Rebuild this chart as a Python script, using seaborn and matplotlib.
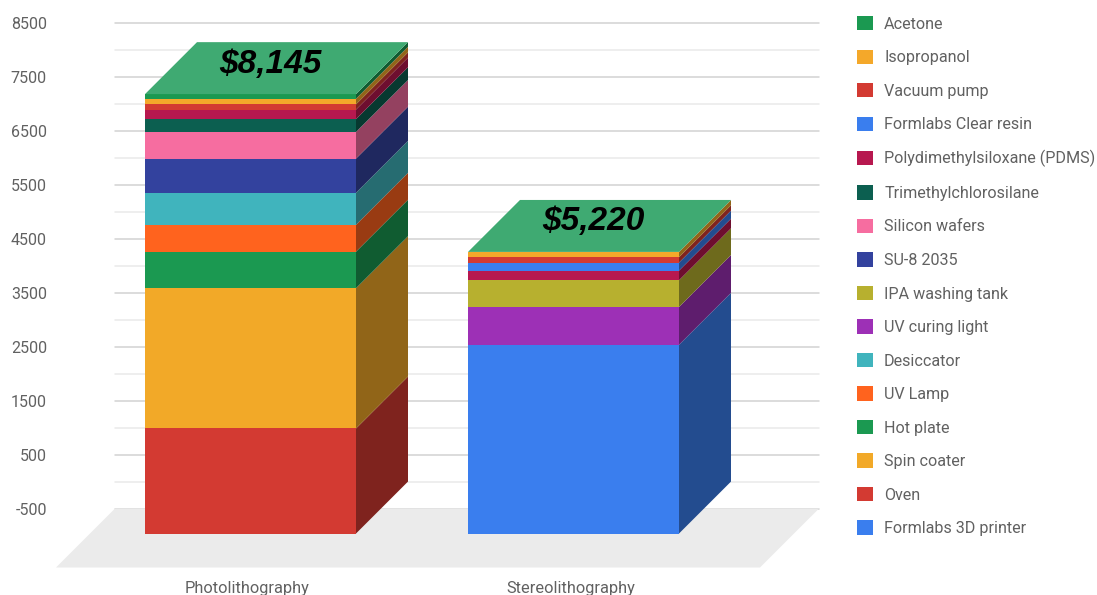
import matplotlib
matplotlib.use("Agg")
import matplotlib.pyplot as plt
from matplotlib.colors import to_rgb
from matplotlib.patches import Patch, Polygon
from matplotlib.transforms import ScaledTranslation
import numpy as np
import seaborn as sns

# Cost of each item per fabrication method, bottom of the stack first
methods = ["Photolithography", "Stereolithography"]
series_names = [
    "Formlabs 3D printer", "Oven", "Spin coater", "Hot plate", "UV Lamp",
    "Desiccator", "UV curing light", "IPA washing tank", "SU-8 2035",
    "Silicon wafers", "Trimethylchlorosilane", "Polydimethylsiloxane (PDMS)",
    "Formlabs Clear resin", "Vacuum pump", "Isopropanol", "Acetone",
]
photolithography = [0, 1947, 2600, 677, 499, 593, 0, 0, 633, 494, 237, 178, 0, 97, 104, 86]
stereolithography = [3499, 0, 0, 0, 0, 0, 700, 495, 0, 0, 0, 179, 149, 99, 99, 0]
series_colors = [
    "#3a7eee", "#d33a32", "#f2a928", "#1b9951", "#ff631e", "#40b4bd",
    "#9d30b6", "#b7b02f", "#33429e", "#f66da0", "#0c5f50", "#b7184f",
    "#3a7eee", "#d33a32", "#f4a82a", "#1b9951",
]
total_labels = ["$8,145", "$5,220"]
y_major = [-500, 500, 1500, 2500, 3500, 4500, 5500, 6500, 7500, 8500]
y_minor = [0, 1000, 2000, 3000, 4000, 5000, 6000, 7000, 8000]

TEXT = "#616161"
PX_PER_UNIT = 0.054       # vertical pixels per dollar
PX_PER_SLOT = 323.0       # horizontal pixels between the two columns
DEPTH_PX = 52.0           # oblique offset of the 3D extrusion
BAR_WIDTH = 211 / PX_PER_SLOT
FIG_W, FIG_H = 1097, 595
AX_L, AX_R, AX_T, AX_B = 115, 819, 23, 568
X0_PX = 250.5

depth_x = DEPTH_PX / PX_PER_SLOT
depth_y = DEPTH_PX / PX_PER_UNIT

sns.set_theme(style="white")
plt.rcParams["font.family"] = ["Roboto", "DejaVu Sans"]
plt.rcParams["axes.unicode_minus"] = False

fig = plt.figure(figsize=(FIG_W / 100, FIG_H / 100), dpi=100)
ax = fig.add_axes([AX_L / FIG_W, 1 - AX_B / FIG_H,
                   (AX_R - AX_L) / FIG_W, (AX_B - AX_T) / FIG_H])

# Stacked front faces, pushed forward by the extrusion depth
bottoms = np.array([-depth_y, -depth_y])
faces = []
for name, p, s, color in zip(series_names, photolithography, stereolithography, series_colors):
    heights = np.array([p, s], dtype=float)
    sns.barplot(x=methods, y=heights, bottom=bottoms, color=color, saturation=1,
                width=BAR_WIDTH, linewidth=0, ax=ax, zorder=3)
    faces.append((bottoms.copy(), heights, color))
    bottoms = bottoms + heights

# Floor and oblique side and top faces
x_left = (AX_L - X0_PX) / PX_PER_SLOT
x_right = (AX_R - X0_PX) / PX_PER_SLOT
floor_dx = 59 / PX_PER_SLOT
floor_dy = 59 / PX_PER_UNIT
ax.add_patch(Polygon(
    [(x_left, -500), (x_right, -500), (x_right - floor_dx, -500 - floor_dy),
     (x_left - floor_dx, -500 - floor_dy)],
    closed=True, facecolor="#ebebeb", edgecolor="none", clip_on=False, zorder=2))

for i in range(len(methods)):
    edge = i + BAR_WIDTH / 2
    for low, heights, color in faces:
        if heights[i] <= 0:
            continue
        lo, hi = low[i], low[i] + heights[i]
        shade = tuple(c * 0.6 for c in to_rgb(color))
        ax.add_patch(Polygon(
            [(edge, lo), (edge + depth_x, lo + depth_y),
             (edge + depth_x, hi + depth_y), (edge, hi)],
            closed=True, facecolor=shade, edgecolor="none", zorder=3))
    top = bottoms[i]
    ax.add_patch(Polygon(
        [(i - BAR_WIDTH / 2, top), (edge, top), (edge + depth_x, top + depth_y),
         (i - BAR_WIDTH / 2 + depth_x, top + depth_y)],
        closed=True, facecolor="#3faa72", edgecolor="none", zorder=3))
    ax.annotate(total_labels[i], xy=(i + depth_x / 2, top + depth_y / 2),
                xytext=(-6, 4), textcoords="offset pixels", ha="center", va="center",
                fontsize=24, fontweight="bold", fontstyle="italic",
                family="Liberation Sans", color="black", zorder=5)

ax.set_xlim(x_left, x_right)
ax.set_ylim((481.5 - AX_B) / PX_PER_UNIT, 8500)

# Gridlines on the back wall with the dollar scale
ax.set_yticks(y_major)
ax.set_yticks(y_minor, minor=True)
ax.set_yticklabels([str(v) for v in y_major])
ax.grid(False)
ax.grid(True, axis="y", which="major", color="#d2d2d2", linewidth=1.1, clip_on=False)
ax.grid(True, axis="y", which="minor", color="#e9e9e9", linewidth=1.1, clip_on=False)
ax.set_axisbelow(True)
ax.tick_params(axis="y", which="both", length=0, pad=49, labelsize=11.5, labelcolor=TEXT)
ax.set_xticks([0, 1])
ax.set_xticklabels(methods)
ax.tick_params(axis="x", length=0, pad=9, labelsize=11.8, labelcolor=TEXT)
shift = ScaledTranslation(-3 / 100, 0, fig.dpi_scale_trans)
for label in ax.get_xticklabels():
    label.set_transform(label.get_transform() + shift)
ax.set_xlabel("")
ax.set_ylabel("")
for spine in ax.spines.values():
    spine.set_visible(False)

# Legend, topmost stack item first
legend_order = [
    "Acetone", "Isopropanol", "Vacuum pump", "Formlabs Clear resin",
    "Polydimethylsiloxane (PDMS)", "Trimethylchlorosilane", "Silicon wafers",
    "SU-8 2035", "IPA washing tank", "UV curing light", "Desiccator", "UV Lamp",
    "Hot plate", "Spin coater", "Oven", "Formlabs 3D printer",
]
color_of = dict(zip(series_names, series_colors))
handles = [Patch(facecolor=color_of[n], edgecolor="none", label=n) for n in legend_order]
fig.legend(handles=handles, loc="upper left",
           bbox_to_anchor=(857 / FIG_W, 1 - 16 / FIG_H), borderaxespad=0, borderpad=0,
           frameon=False, fontsize=11.6, labelcolor=TEXT, handlelength=1.0,
           handleheight=1.0, handletextpad=0.68, labelspacing=1.105)

fig.savefig("out.png", dpi=100)
